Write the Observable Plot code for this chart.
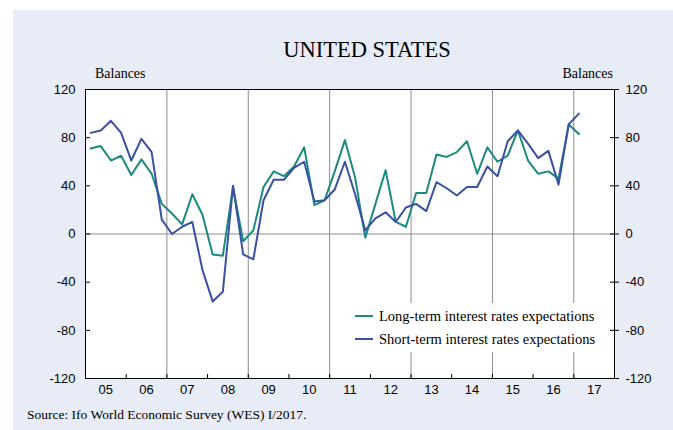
<!DOCTYPE html>
<html>
<head>
<meta charset="utf-8">
<script src="https://cdn.jsdelivr.net/npm/d3@7"></script>
<script src="https://cdn.jsdelivr.net/npm/@observablehq/plot@0.6"></script>
<style>
  html, body { margin: 0; padding: 0; background: #ffffff; }
  body { width: 673px; height: 430px; position: relative; overflow: hidden; }
  #bg { position: absolute; left: 13px; top: 10px; width: 660px; height: 420px; background: #E8ECF7; }
  .serif { font-family: "Liberation Serif", "Times New Roman", Times, serif; color: #000; }
  #title { position: absolute; left: 0; width: 734px; top: 38px; text-align: center; font-size: 22.5px; line-height: 23px; }
  #balL { position: absolute; left: 95px; top: 67px; font-size: 14px; line-height: 14px; }
  #balR { position: absolute; right: 60px; top: 67px; font-size: 14px; line-height: 14px; }
  #chart { position: absolute; left: 0; top: 60px; }
  #legend { position: absolute; left: 348px; top: 303px; width: 262px; height: 49px; background: #fff; }
  .item { position: absolute; left: 0; height: 18px; font-size: 14.5px; line-height: 18px; white-space: nowrap; }
  .item .sw { position: absolute; left: 7px; top: 8px; width: 18px; height: 2px; }
  .item .lb { position: absolute; left: 31px; top: 0; }
  #caption { position: absolute; left: 27px; top: 408px; font-size: 13.5px; line-height: 14px; }
</style>
</head>
<body>
<div id="bg"></div>
<div id="title" class="serif">UNITED STATES</div>
<div id="balL" class="serif">Balances</div>
<div id="balR" class="serif">Balances</div>
<div id="chart"></div>
<div id="legend" class="serif"></div>
<div id="caption" class="serif">Source: Ifo World Economic Survey (WES) I/2017.</div>
<script>
// ---- data ----
const quarters = [
  "2005Q1","2005Q2","2005Q3","2005Q4","2006Q1","2006Q2","2006Q3","2006Q4",
  "2007Q1","2007Q2","2007Q3","2007Q4","2008Q1","2008Q2","2008Q3","2008Q4",
  "2009Q1","2009Q2","2009Q3","2009Q4","2010Q1","2010Q2","2010Q3","2010Q4",
  "2011Q1","2011Q2","2011Q3","2011Q4","2012Q1","2012Q2","2012Q3","2012Q4",
  "2013Q1","2013Q2","2013Q3","2013Q4","2014Q1","2014Q2","2014Q3","2014Q4",
  "2015Q1","2015Q2","2015Q3","2015Q4","2016Q1","2016Q2","2016Q3","2016Q4",
  "2017Q1"
];
const longTerm = [
  71, 73, 61, 65, 49, 62, 50, 25,
  17, 8, 33, 16, -17, -18, 39, -6,
  3, 39, 52, 48, 56, 72, 24, 28,
  52, 78, 47, -3, 25, 53, 10, 6,
  34, 34, 66, 64, 68, 77, 50, 72,
  60, 65, 86, 61, 50, 52, 46, 91,
  83
];
const shortTerm = [
  84, 86, 94, 84, 61, 79, 68, 12,
  0, 6, 10, -30, -56, -48, 40, -17,
  -21, 28, 45, 45, 55, 60, 27, 28,
  37, 60, 33, 3, 13, 18, 10, 22,
  25, 19, 43, 38, 32, 39, 39, 56,
  48, 77, 86, 75, 63, 69, 41, 91,
  100
];
const seriesNames = ["Long-term interest rates expectations", "Short-term interest rates expectations"];
const seriesColors = ["#1B8A80", "#3A50A3"];
const yearLabels = ["05","06","07","08","09","10","11","12","13","14","15","16","17"];
const yTicks = [-120, -80, -40, 0, 40, 80, 120];
const gridYears = [2007, 2009, 2011, 2013, 2015, 2017];
const yearBoundaries = [2006, 2007, 2008, 2009, 2010, 2011, 2012, 2013, 2014, 2015, 2016, 2017];

// ---- derived table ----
const qpos = q => +q.slice(0, 4) + (+q.slice(5) - 0.5) / 4;
const rows = quarters.map((q, i) => ({t: qpos(q), lt: longTerm[i], st: shortTerm[i]}));
const yearCenters = yearLabels.map(l => 2000 + +l + 0.5);

// ---- layout ----
const W = 673, H = 348, mt = 29, mb = 30, ml = 85, mr = 59;
const innerH = H - mt - mb, innerW = W - ml - mr;
const fmtY = d => String(d);

const chart = Plot.plot({
  width: W, height: H,
  marginTop: mt, marginBottom: mb, marginLeft: ml, marginRight: mr,
  style: {background: "transparent", fontFamily: "'Liberation Sans', Arial, sans-serif", fontSize: "13px", color: "#000", overflow: "visible"},
  x: {domain: [2005, 2018]},
  y: {domain: [-120, 120]},
  marks: [
    Plot.frame({fill: "#ffffff"}),
    Plot.ruleX(gridYears, {stroke: "#8c8c8c", strokeWidth: 1}),
    Plot.ruleY([0], {stroke: "#8c8c8c", strokeWidth: 1}),
    Plot.ruleX(yearBoundaries, {insetTop: innerH - 4, stroke: "#000"}),
    Plot.ruleY(yTicks, {insetRight: innerW - 5, stroke: "#000"}),
    Plot.ruleY(yTicks, {insetLeft: innerW - 4, stroke: "#000"}),
    Plot.line(rows, {x: "t", y: "lt", stroke: seriesColors[0], strokeWidth: 2}),
    Plot.line(rows, {x: "t", y: "st", stroke: seriesColors[1], strokeWidth: 2}),
    Plot.axisX(yearCenters, {tickSize: 0, tickPadding: 6, tickFormat: d => yearLabels[yearCenters.indexOf(d)], label: null}),
    Plot.axisY(yTicks, {anchor: "left", tickSize: 0, tickPadding: 10, tickFormat: fmtY, label: null}),
    Plot.axisY(yTicks, {anchor: "right", tickSize: 4, tickPadding: 7, tickFormat: fmtY, label: null}),
    Plot.frame({stroke: "#000", strokeWidth: 1})
  ]
});
document.getElementById("chart").appendChild(chart);

// ---- legend ----
const legend = document.getElementById("legend");
seriesNames.forEach((name, i) => {
  const it = document.createElement("div");
  it.className = "item";
  it.style.top = (4 + i * 23) + "px";
  it.innerHTML = `<span class="sw" style="background:${seriesColors[i]}"></span><span class="lb">${name}</span>`;
  legend.appendChild(it);
});
</script>
</body>
</html>
